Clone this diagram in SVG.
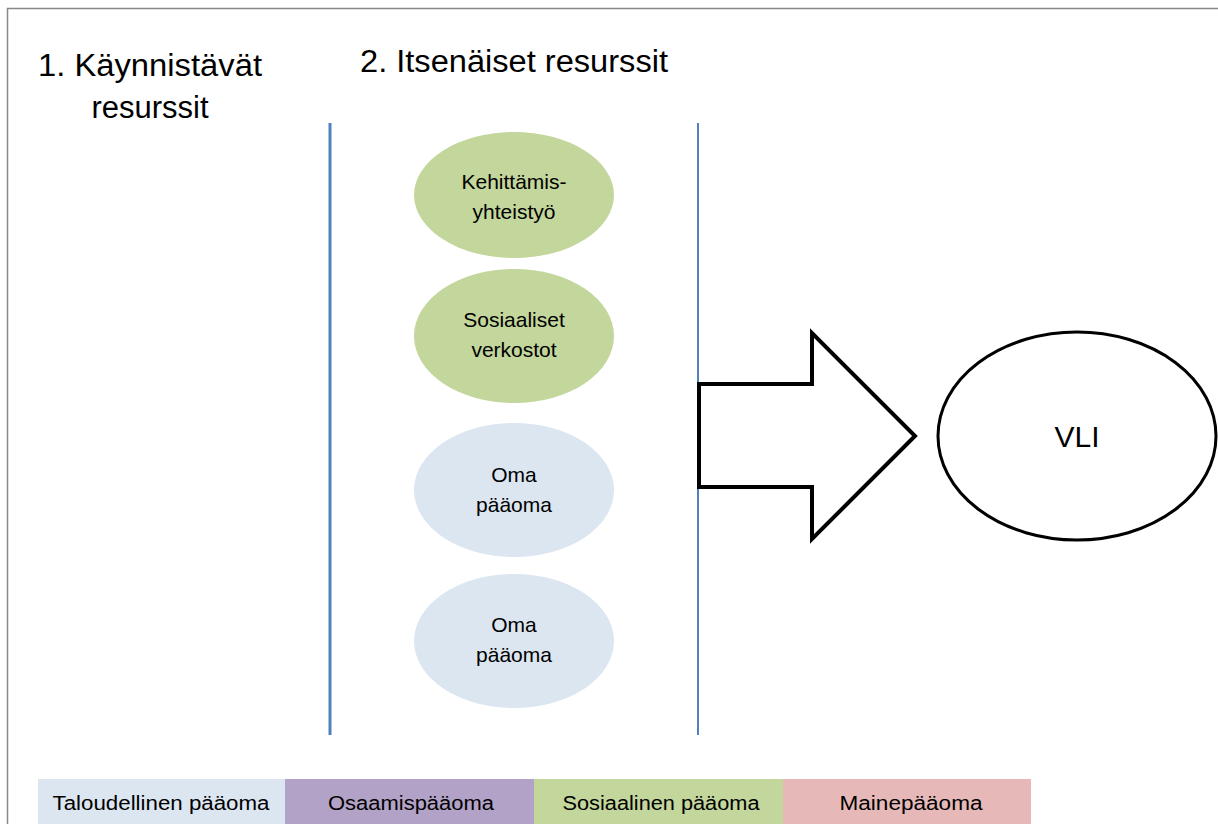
<svg xmlns="http://www.w3.org/2000/svg" width="1218" height="824" viewBox="0 0 1218 824">
<style>
text{font-family:"Liberation Sans",Arial,sans-serif;fill:#000;text-anchor:middle}
.title{font-size:31px}
.el{font-size:21px}
.leg{font-size:20px}
.vline{stroke:#4F81BD;fill:none}
</style>
<rect x="0" y="0" width="1218" height="824" fill="#fff"/>
<path d="M7.5 824 V8.5 H1218" fill="none" stroke="#888" stroke-width="1.5"/>
<g id="titles">
<text class="title" x="150" y="76" textLength="224" lengthAdjust="spacingAndGlyphs">1. Käynnistävät</text>
<text class="title" x="150" y="118">resurssit</text>
<text class="title" x="514" y="72" textLength="308" lengthAdjust="spacingAndGlyphs">2. Itsenäiset resurssit</text>
</g>
<g id="connectors">
<line class="vline" x1="330" y1="123" x2="330" y2="735" stroke-width="3"/>
<line class="vline" x1="698" y1="123" x2="698" y2="735" stroke-width="2"/>
</g>
<g id="n1">
<ellipse cx="514" cy="195" rx="100" ry="63" fill="#C3D69B"/>
<text class="el" x="514" y="189">Kehittämis-</text>
<text class="el" x="514" y="219">yhteistyö</text>
</g>
<g id="n2">
<ellipse cx="514" cy="336" rx="100" ry="67" fill="#C3D69B"/>
<text class="el" x="514" y="327">Sosiaaliset</text>
<text class="el" x="514" y="357">verkostot</text>
</g>
<g id="n3">
<ellipse cx="514" cy="490" rx="100" ry="67" fill="#DCE6F1"/>
<text class="el" x="514" y="482">Oma</text>
<text class="el" x="514" y="512">pääoma</text>
</g>
<g id="n4">
<ellipse cx="514" cy="641" rx="100" ry="67" fill="#DCE6F1"/>
<text class="el" x="514" y="632">Oma</text>
<text class="el" x="514" y="662">pääoma</text>
</g>
<g id="arrow">
<polygon points="699,384 812,384 812,333 915,436 812,539 812,487 699,487" fill="#fff" stroke="#000" stroke-width="4" stroke-linejoin="miter"/>
</g>
<g id="vli">
<ellipse cx="1077" cy="436" rx="139" ry="104" fill="#fff" stroke="#000" stroke-width="3"/>
<text x="1077" y="447" style="font-size:30px">VLI</text>
</g>
<g id="legend">
<rect x="38" y="779" width="247" height="45" fill="#DCE6F1"/>
<rect x="285" y="779" width="249" height="45" fill="#B3A2C7"/>
<rect x="534" y="779" width="249" height="45" fill="#C3D69B"/>
<rect x="783" y="779" width="248" height="45" fill="#E6B9B8"/>
<text class="leg" x="161" y="810" textLength="217" lengthAdjust="spacingAndGlyphs">Taloudellinen pääoma</text>
<text class="leg" x="411" y="810" textLength="166" lengthAdjust="spacingAndGlyphs">Osaamispääoma</text>
<text class="leg" x="661" y="810" textLength="197" lengthAdjust="spacingAndGlyphs">Sosiaalinen pääoma</text>
<text class="leg" x="911" y="810" textLength="143" lengthAdjust="spacingAndGlyphs">Mainepääoma</text>
</g>
</svg>
